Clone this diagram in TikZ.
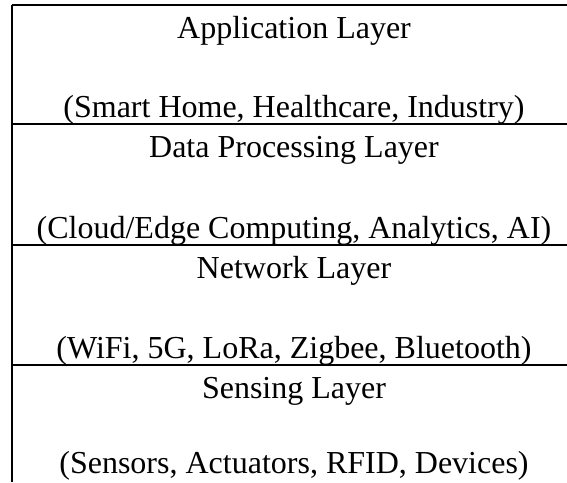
\documentclass[tikz,border=0pt]{standalone}
\usepackage{fontspec}
\setmainfont{Liberation Serif}

\begin{document}
\begin{tikzpicture}[x=1pt, y=-1pt,
    layer/.style={font=\fontsize{32}{38}\selectfont, anchor=base, inner sep=0pt}]
    \useasboundingbox (0,0) rectangle (567,482);
    \draw [line width=2pt] (12,5) -- (567,5);
    \draw [line width=1.6pt] (12,5) -- (12,482);
    \draw [line width=1.4pt] (12,124) -- (567,124);
    \draw [line width=1.4pt] (12,245) -- (567,245);
    \draw [line width=1.4pt] (12,365) -- (567,365);
    \node [layer] (app) at (294,38) {Application Layer};
    \node [layer] (appuse) at (294,117) {(Smart Home, Healthcare, Industry)};
    \node [layer] (proc) at (294,157) {Data Processing Layer};
    \node [layer] (procuse) at (294,238) {(Cloud/Edge Computing, Analytics, AI)};
    \node [layer] (net) at (294,278) {Network Layer};
    \node [layer] (netuse) at (294,358) {(WiFi, 5G, LoRa, Zigbee, Bluetooth)};
    \node [layer] (sense) at (294,398) {Sensing Layer};
    \node [layer] (senseuse) at (294,473) {(Sensors, Actuators, RFID, Devices)};
\end{tikzpicture}
\end{document}
